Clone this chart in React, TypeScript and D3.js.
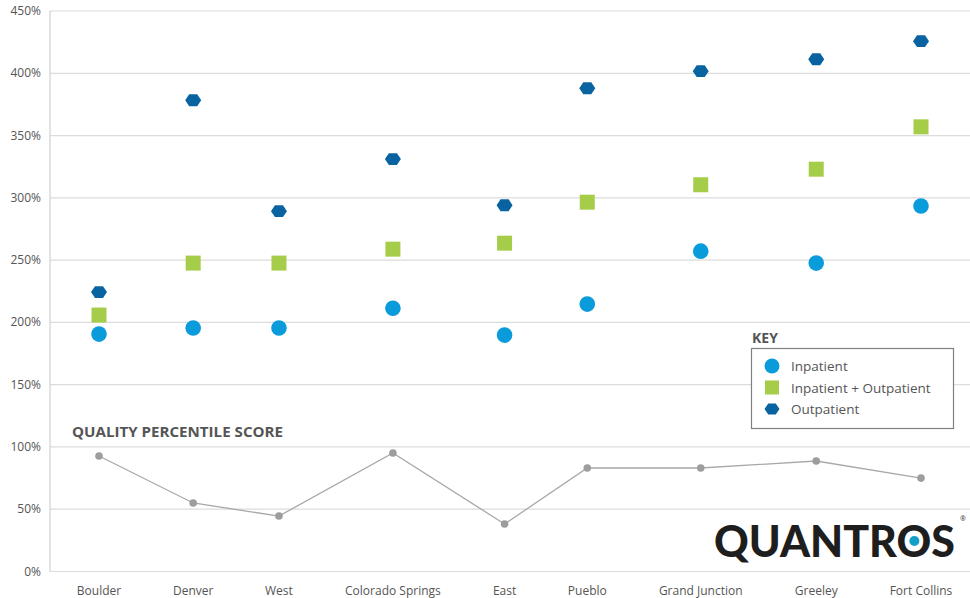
import React from "react";
import * as d3 from "d3";

const categories = ["Boulder", "Denver", "West", "Colorado Springs", "East", "Pueblo", "Grand Junction", "Greeley", "Fort Collins"];
const inpatient = [190.6, 195.5, 195.5, 211.4, 189.8, 214.7, 257.2, 247.6, 293.5];
const inpOutpatient = [205.9, 247.6, 247.6, 258.8, 263.6, 296.5, 310.5, 323.0, 357.0];
const outpatient = [224.3, 378.4, 289.3, 331.1, 294.1, 388.0, 401.7, 411.3, 425.8];
const quality = [92.7, 55, 44.5, 95.1, 38.1, 83.1, 83.1, 88.7, 75];
const yTicks = [0, 50, 100, 150, 200, 250, 300, 350, 400, 450];
const legendItems = ["Inpatient", "Inpatient + Outpatient", "Outpatient"];

const FONT = "'Open Sans', Lato, sans-serif";
const TEXT = "#555555";
const C_IN = "#0a9bdb";
const C_IO = "#a6cd4a";
const C_OUT = "#0a63a1";

function measure(text: string, font: string): number {
  if (typeof document === "undefined") return text.length * 7;
  const c = document.createElement("canvas");
  const ctx = c.getContext("2d");
  if (!ctx) return text.length * 7;
  ctx.font = font;
  return ctx.measureText(text).width;
}

const hexPath = (r: number) => {
  const pts = d3.range(6).map((i) => {
    const a = (Math.PI / 3) * i;
    return [r * Math.cos(a), r * 0.86 * Math.sin(a)];
  });
  return "M" + pts.map((p) => p.join(",")).join("L") + "Z";
};

export default function App() {
  const W = 970, H = 598;
  const left = 50, right = 970, top = 11, bottom = 571.5;
  const y = d3.scaleLinear().domain([0, 450]).range([bottom, top]);

  // label-width driven category spacing (labels separated by a fixed gap)
  const labelFont = `12px ${FONT}`;
  const widths = categories.map((c) => measure(c, labelFont));
  const gap = 50;
  const offsets: number[] = [];
  let acc = 0;
  widths.forEach((w, i) => {
    if (i === 0) acc = 0;
    else acc += (widths[i - 1] + w) / 2 + gap;
    offsets.push(acc);
  });
  const xPos = d3.scaleLinear().domain([0, offsets[offsets.length - 1]]).range([99, 921]);
  const x = (i: number) => xPos(offsets[i]);

  const line = d3.line<number>().x((_, i) => x(i)).y((d) => y(d));

  const logoFontFamily = "Lato, 'Open Sans', sans-serif";
  const logoX = 714;
  const logoTarget = 241;
  const baseW = measure("QUANTROS", `900 46px ${logoFontFamily}`);
  const logoSize = 46 * logoTarget / baseW;
  const logoFont = `900 ${logoSize}px ${logoFontFamily}`;
  const wPre = measure("QUANTR", logoFont);
  const wO = measure("O", logoFont);

  return (
    <svg width={W} height={H} style={{ position: "absolute", left: 0, top: 0, fontFamily: FONT }}>
      <rect width={W} height={H} fill="#fff" />
      {yTicks.map((t) => (
        <g key={t}>
          <line x1={left} x2={right} y1={y(t)} y2={y(t)} stroke="#dcdcdc" strokeWidth={1.2} />
          <text x={41} y={y(t) + 4} textAnchor="end" fontSize={12} fill={TEXT}>{t}%</text>
        </g>
      ))}
      <line x1={left} x2={left} y1={top} y2={bottom} stroke="#d0d0d0" strokeWidth={1.2} />
      {categories.map((c, i) => (
        <text key={c} x={x(i)} y={595} textAnchor="middle" fontSize={12} fill={TEXT}>{c}</text>
      ))}

      <text x={72} y={437} fontSize={14.5} fontWeight={700} fill={TEXT}
        textLength={211} lengthAdjust="spacingAndGlyphs">QUALITY PERCENTILE SCORE</text>
      <path d={line(quality) || ""} fill="none" stroke="#a8a8a8" strokeWidth={1.3} />
      {quality.map((v, i) => (
        <circle key={i} cx={x(i)} cy={y(v)} r={3.8} fill="#9d9d9d" />
      ))}

      {inpatient.map((v, i) => (
        <circle key={"a" + i} cx={x(i)} cy={y(v)} r={7.8} fill={C_IN} />
      ))}
      {inpOutpatient.map((v, i) => (
        <rect key={"b" + i} x={x(i) - 7.5} y={y(v) - 7.5} width={15} height={15} fill={C_IO} />
      ))}
      {outpatient.map((v, i) => (
        <path key={"c" + i} d={hexPath(8)} transform={`translate(${x(i)},${y(v)})`} fill={C_OUT} />
      ))}

      <text x={752} y={343} fontSize={14} fontWeight={700} fill={TEXT}>KEY</text>
      <rect x={751.5} y={348.5} width={202} height={80} fill="#fff" stroke="#808080" strokeWidth={1.2} />
      {legendItems.map((l, i) => {
        const cy = 366 + i * 21.5;
        return (
          <g key={l}>
            {i === 0 && <circle cx={772} cy={cy} r={7.5} fill={C_IN} />}
            {i === 1 && <rect x={765} y={cy - 7} width={14} height={14} fill={C_IO} />}
            {i === 2 && <path d={hexPath(7.5)} transform={`translate(772,${cy})`} fill={C_OUT} />}
            <text x={791} y={cy + 5} fontSize={13.5} fill={TEXT}>{l}</text>
          </g>
        );
      })}

      <text x={logoX} y={557} fontSize={logoSize} fontWeight={900} fontFamily={logoFontFamily} fill="#1e1e1e">QUANTROS</text>
      <circle cx={logoX + wPre + wO / 2} cy={541} r={5} fill="#12a0c8" />
      <text x={960} y={521} fontSize={7} fill="#333">®</text>
    </svg>
  );
}
